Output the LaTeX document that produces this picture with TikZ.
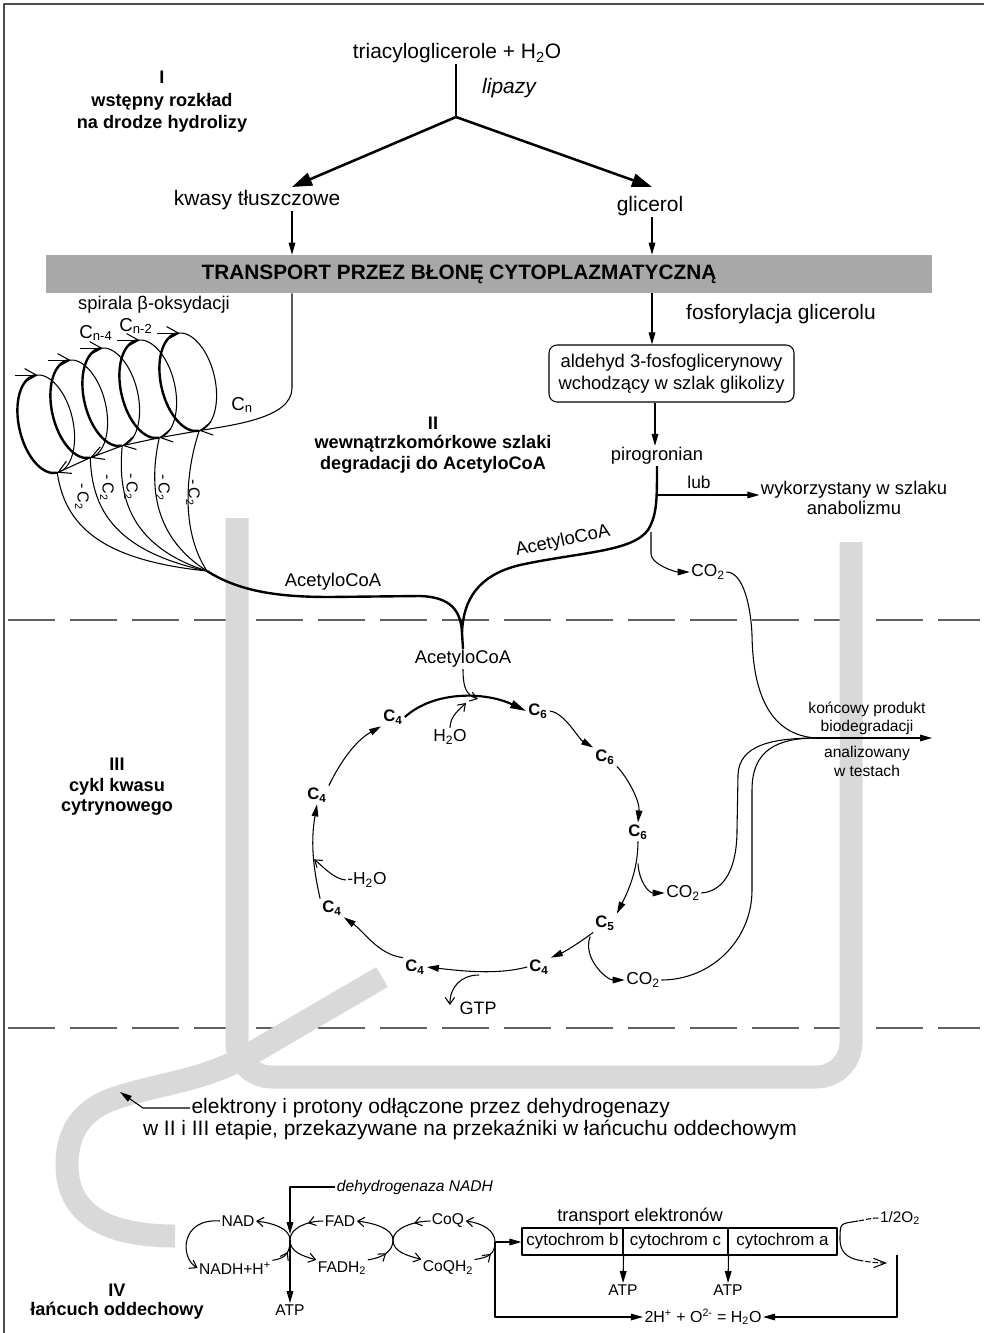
\documentclass[tikz,border=0pt]{standalone}
\usepackage{fontspec}
\setmainfont{Liberation Sans}
\usetikzlibrary{arrows.meta,calc,decorations.markings}

\definecolor{bandgray}{gray}{0.85}
\definecolor{bargray}{gray}{0.66}
\definecolor{rulegray}{gray}{0.38}
\definecolor{framegray}{gray}{0.3}

% type sizes (one unit of the layout grid = 0.75pt)
\newcommand\fzMain{\fontsize{15.7}{19}\selectfont}
\newcommand\fzBar{\fontsize{15.6}{18}\selectfont\bfseries}
\newcommand\fzSec{\fontsize{13.6}{16.2}\selectfont\bfseries}
\newcommand\fzMid{\fontsize{13.8}{16.5}\selectfont}
\newcommand\fzChem{\fontsize{13}{15}\selectfont}
\newcommand\fzCyc{\fontsize{12.5}{14}\selectfont\bfseries}
\newcommand\fzSmall{\fontsize{11.7}{13.5}\selectfont}
\newcommand\fzCyto{\fontsize{12.7}{14}\selectfont}

\tikzset{
  thinl/.style={line width=0.8pt},
  heavy/.style={line width=1.8pt},
  arr/.style={-{Triangle[length=9pt,width=5pt]}},
  bigarr/.style={-{Triangle[length=15pt,width=10pt]}},
  oarr/.style={-{Straight Barb[length=5pt,width=7pt]}},
  sparr/.style={-{Straight Barb[length=9pt,width=10pt]}},
  midbarb/.style={postaction={decorate},decoration={markings,
      mark=at position #1 with {\arrow{Straight Barb[length=5pt,width=7pt]}}}},
  band/.style={draw=bandgray,line width=17.25pt},
  lbl/.style={inner sep=1pt},
  cyc/.style={inner sep=1.5pt,font=\fzCyc},
}

\begin{document}
\begin{tikzpicture}[x=0.75pt,y=-0.75pt,line join=round]
\useasboundingbox (0,0) rectangle (984,1333);

% ---------- frame and stage separators ----------
\draw[framegray,line width=1.3pt] (4,1333) -- (4,4) -- (984,4);
\draw[rulegray,line width=0.9pt,dash pattern=on 35pt off 11.5pt] (8,620) -- (980,620);
\draw[rulegray,line width=0.9pt,dash pattern=on 35pt off 11.5pt] (8,1028) -- (980,1028);

% ---------- electron/proton carriers (grey bands) ----------
\draw[band,rounded corners=26pt] (237,518) -- (237,1077) -- (851,1077) -- (851,542);
\draw[band] (382,977) -- (245,1057) .. controls (200,1082) and (150,1085) .. (110,1100)
  .. controls (75,1114) and (67,1140) .. (67,1165) .. controls (67,1210) and (100,1236) .. (175,1236);

% ---------- stage I ----------
\node[lbl,font=\fzMain] (tri) at (457,53) {triacyloglicerole + H\textsubscript{2}O};
\node[lbl,font=\fzMain\itshape] (lip) at (509,88) {lipazy};
\node[lbl,font=\fzSec] (s1a) at (162,77) {I};
\node[lbl,font=\fzSec] (s1b) at (162,102) {wstępny rozkład};
\node[lbl,font=\fzSec] (s1c) at (162,124) {na drodze hydrolizy};
\node[lbl,font=\fzMain] (kwasy) at (257,200) {kwasy tłuszczowe};
\node[lbl,font=\fzMain] (glic) at (650,206) {glicerol};
\coordinate (br) at (456,117);
\coordinate (fa) at (292,187);
\coordinate (ga) at (652,187);
\draw[thinl] (tri.south -| br) -- (br);
\draw[line width=1.9pt,bigarr] (br) -- (fa);
\draw[line width=1.9pt,bigarr] (br) -- (ga);

% membrane transport bar
\node[fill=bargray,minimum width=664.5pt,minimum height=28.5pt,inner sep=0pt] (bar) at (489,274) {};
\node[lbl,font=\fzBar] (bartxt) at (459,274) {TRANSPORT PRZEZ BŁONĘ CYTOPLAZMATYCZNĄ};
\draw[thinl,arr] (kwasy.south -| fa) -- (bar.north -| fa);
\draw[thinl,arr] (glic.south -| ga) -- (bar.north -| ga);

% ---------- stage II ----------
\node[lbl,font=\fzSec] (s2a) at (433,423) {II};
\node[lbl,font=\fzSec] (s2b) at (433,444) {wewnątrzkomórkowe szlaki};
\node[lbl,font=\fzSec] (s2c) at (433,465) {degradacji do AcetyloCoA};

\node[lbl,font=\fzMain] (fos) at (781,314) {fosforylacja glicerolu};
\node[draw,thinl,rounded corners=6pt,minimum width=183.75pt,minimum height=42.75pt,
      inner sep=0pt,align=center,font=\fzMid] (box) at (671.5,373.5)
      {aldehyd 3-fosfoglicerynowy\\wchodzący w szlak glikolizy};
\draw[thinl,arr] (bar.south -| ga) -- (box.north -| ga);
\node[lbl,font=\fzMid] (piro) at (657,456) {pirogronian};
\coordinate (px) at (655,0);
\draw[thinl,arr] (box.south -| px) -- (piro.north -| px);

\node[lbl,font=\fzChem] (lub) at (699,482) {lub};
\node[lbl,align=center,font=\fontsize{13.8}{15}\selectfont] (wyk) at (854,498) {wykorzystany w szlaku\\anabolizmu};
\coordinate (lubs) at (657,495);
\draw[thinl,arr] (lubs) -- (wyk.west |- lubs);

\node[lbl,font=\fzChem] (co2p) at (708,572) {CO\textsubscript{2}};
\coordinate (co2s) at (651,532);
\draw[thinl,arr] (co2s) -- ++(0,22) .. controls +(0,10) and +(-15,0) .. (co2p.west);

% beta-oxidation spiral
\node[lbl,font=\fzMid] (spir) at (154,305) {spirala β-oksydacji};
\node[lbl,font=\fontsize{14}{16}\selectfont] (cn4) at (96,333) {C\textsubscript{n-4}};
\node[lbl,font=\fontsize{14}{16}\selectfont] (cn2) at (136,326) {C\textsubscript{n-2}};
\node[lbl,font=\fontsize{14}{16}\selectfont] (cn) at (242,405) {C\textsubscript{n}};
\foreach \i/\cx/\cy in {1/188/382,2/148/389,3/111/397,4/79/409,5/46/424}{
  \begin{scope}[shift={(\cx,\cy)},rotate=13]
    \coordinate (t\i) at (0,-50);
    \coordinate (b\i) at (0,50);
    \draw[line width=1.8pt] (0,50) arc[start angle=90,end angle=270,x radius=27,y radius=50];
    \draw[thinl] (0,-50) arc[start angle=270,end angle=450,x radius=27,y radius=50];
  \end{scope}
  \draw[thinl,sparr] ($(t\i)+(-20,0)$) -- ($(t\i)+(3,0)$);
}
\coordinate (cnl) at (292,388);
\draw[thinl,sparr] (bar.south -| cnl) -- (cnl) .. controls +(0,30) and +(35,-6) .. (b1);
\draw[thinl,sparr] (b1) -- (b2);
\draw[thinl,sparr] (b2) -- (b3);
\draw[thinl,sparr] (b3) -- (b4);
\draw[thinl,sparr] (b4) -- (b5);

% C2 units leaving each turn
\coordinate (conv) at (207,571);
\draw[thinl] (b1) .. controls (186,470) and (180,530) .. (conv);
\draw[thinl] (b2) .. controls (150,480) and (150,535) .. (conv);
\draw[thinl] (b3) .. controls (118,490) and (125,545) .. (conv);
\draw[thinl] (b4) .. controls (92,505) and (110,550) .. (conv);
\draw[thinl] (b5) .. controls (65,525) and (100,560) .. (conv);
\foreach \n/\lx/\ly in {1/193/493,2/163/488,3/131/487,4/107/488,5/82/497}{
  \node[lbl,rotate=-90,font=\fontsize{12}{14}\selectfont] (mc\n) at (\lx,\ly) {-\,C\textsubscript{2}};
}

% acetyl-CoA streams
\node[lbl,font=\fzMid] (acoa1) at (333,582) {AcetyloCoA};
\node[lbl,font=\fzMid,rotate=12] (acoa2) at (563,541) {AcetyloCoA};
\node[lbl,font=\fzMid] (acoa3) at (463,659) {AcetyloCoA};
\coordinate (cusp) at (462,633);
\draw[heavy] (conv) .. controls (240,592) and (280,597) .. (330,597) -- (420,596)
  .. controls (450,597) and (461,610) .. (cusp)
  .. controls (463,600) and (478,575) .. (520,565)
  .. controls (580,552) and (632,552) .. (648,530)
  .. controls (657,515) and (657,500) .. (piro.south);
\draw[heavy] (cusp) -- (acoa3.north);

% ---------- stage III: citric acid cycle ----------
\node[lbl,font=\fzSec] (s3a) at (117,764) {III};
\node[lbl,font=\fzSec] (s3b) at (117,787) {cykl kwasu};
\node[lbl,font=\fzSec] (s3c) at (117,807) {cytrynowego};

\node[cyc] (c6a) at (538,711) {C\textsubscript{6}};
\node[cyc] (c6b) at (605,757) {C\textsubscript{6}};
\node[cyc] (c6c) at (638,832) {C\textsubscript{6}};
\node[cyc] (c5)  at (605,923) {C\textsubscript{5}};
\node[cyc] (c4a) at (539,967) {C\textsubscript{4}};
\node[cyc] (c4b) at (415,967) {C\textsubscript{4}};
\node[cyc] (c4c) at (332,908) {C\textsubscript{4}};
\node[cyc] (c4d) at (317,795) {C\textsubscript{4}};
\node[cyc] (c4e) at (393,717) {C\textsubscript{4}};

\node[lbl,font=\fzChem] (h2o) at (450,737) {H\textsubscript{2}O};
\node[lbl,font=\fzChem] (mh2o) at (367,880) {-H\textsubscript{2}O};
\node[lbl,font=\fzChem] (co2a) at (683,893) {CO\textsubscript{2}};
\node[lbl,font=\fzChem] (co2b) at (643,980) {CO\textsubscript{2}};
\node[lbl,font=\fontsize{13.5}{15}\selectfont] (gtp) at (478,1008) {GTP};

\draw[line width=1.6pt,-{Triangle[length=12pt,width=6pt]}] (c4e.east) .. controls +(30,-27) and +(-40,-19) .. (c6a.west);
\draw[thinl,arr] (c6a.east) .. controls +(15,2) and +(-15,-9) .. (c6b.north west);
\draw[thinl,arr] (c6b.south east) .. controls +(10,10) and +(2,-22) .. (c6c.north);
\draw[thinl,arr] (c6c.south) .. controls +(0,30) and +(10,-20) .. (c5.north east);
\draw[thinl,arr] (c5.south west) .. controls +(-12,9) and +(16,-7) .. (c4a.north east);
\draw[thinl,arr] (c4a.west) .. controls +(-30,8) and +(35,4) .. (c4b.east);
\draw[thinl,arr] (c4b.north west) .. controls +(-25,-3) and +(20,14) .. (c4c.south east);
\draw[thinl,arr] (c4c.north west) .. controls +(-8,-35) and +(-6,35) .. (c4d.south);
\draw[thinl,arr] (c4d.north east) .. controls +(12,-25) and +(-25,14) .. (c4e.south west);

\coordinate (merge) at (478,699);
\coordinate (hj) at (466,703);
\draw[thinl,oarr] (acoa3.south) .. controls +(0,18) and +(-12,-4) .. (merge);
\draw[thinl,oarr] (h2o.north) .. controls +(0,-12) and +(-6,6) .. (hj);
\draw[thinl,oarr] (mh2o.west) .. controls +(-12,-1) and +(10,8) .. ($(c4d.south)+(-3,55)$);
\draw[thinl,arr] ($(c6c.south)+(0,22)$) .. controls +(1,18) and +(-16,0) .. (co2a.west);
\draw[thinl,arr] ($(c5.south west)+(-3,4)$) .. controls +(-8,22) and +(-18,0) .. (co2b.west);
\draw[thinl,oarr] ($(c4b.east)!0.52!(c4a.west)+(0,8)$) .. controls +(-18,0) and +(0,-18) .. ($(gtp.west)+(-8,-3)$);

% CO2 gathered as the end product
\node[lbl,font=\fzSmall] (kon1) at (867,709) {końcowy produkt};
\node[lbl,font=\fzSmall] (kon2) at (867,727) {biodegradacji};
\node[lbl,font=\fzSmall] (an1) at (867,753) {analizowany};
\node[lbl,font=\fzSmall] (an2) at (867,771) {w testach};
\coordinate (fin) at (817,738);
\coordinate (finend) at (932,738);
\draw[thinl] (co2p.east) .. controls +(18,0) and +(-1,-25) .. (752,635) .. controls +(1,70) and +(-40,-2) .. (fin);
\draw[thinl] (co2a.east) .. controls +(25,-2) and +(0,35) .. (737,830) -- (738,775) .. controls +(1,-30) and +(-45,0) .. (fin);
\draw[thinl] (co2b.east) .. controls +(50,0) and +(0,50) .. (752,890) -- (752,790) .. controls +(0,-40) and +(-40,0) .. (fin);
\draw[thinl,arr] (fin) -- (finend);

% ---------- stage IV: respiratory chain ----------
\node[lbl,font=\fzMain,anchor=west] (el1) at (190,1108) {elektrony i protony odłączone przez dehydrogenazy};
\node[lbl,font=\fzMain] (el2) at (470,1130) {w II i III etapie, przekazywane na przekaźniki w łańcuchu oddechowym};
\coordinate (ebt) at (120,1092);
\draw[thinl,arr] (el1.west) -- ++(-47,0) -- (ebt);

\node[lbl,font=\fzSec] (s4a) at (117,1290) {IV};
\node[lbl,font=\fzSec] (s4b) at (117,1311) {łańcuch oddechowy};

\node[lbl,font=\fzSmall\itshape] (dehy) at (415,1187) {dehydrogenaza NADH};
\node[lbl,font=\fzSmall] (nad) at (238,1221) {NAD};
\node[lbl,font=\fzSmall] (fad) at (340,1221) {FAD};
\node[lbl,font=\fzSmall] (coq) at (448,1221) {CoQ};
\node[lbl,font=\fzSmall] (nadh) at (235,1268) {NADH+H\textsuperscript{+}};
\node[lbl,font=\fzSmall] (fadh) at (342,1268) {FADH\textsubscript{2}};
\node[lbl,font=\fzSmall] (coqh) at (448,1268) {CoQH\textsubscript{2}};
\node[lbl,font=\fzSmall] (atp0) at (290,1310) {ATP};
\coordinate (j1) at (290,1240);
\coordinate (j2) at (393,1240);
\coordinate (j3) at (495,1242);

\draw[thinl,arr] (dehy.west) -- ++(-13,0) -| ($(j1)+(0,-6)$);
\draw[thinl,arr] (j1) -- (atp0.north);
\draw[thinl,oarr] (nad.west) .. controls (180,1218) and (180,1258) .. (nadh.west);
\draw[thinl,oarr,midbarb=0.25] (nadh.north east) .. controls +(14,-2) and +(0,12) .. (j1) .. controls +(0,-12) and +(16,2) .. (nad.east);
\draw[thinl,oarr,midbarb=0.2] (fad.west) .. controls +(-16,0) and +(0,-12) .. (j1) .. controls +(0,12) and +(-14,-4) .. (fadh.north west);
\draw[thinl,oarr,midbarb=0.25] (fadh.north east) .. controls +(14,-2) and +(0,12) .. (j2) .. controls +(0,-12) and +(16,2) .. (fad.east);
\draw[thinl,oarr,midbarb=0.2] (coq.west) .. controls +(-16,0) and +(0,-12) .. (j2) .. controls +(0,12) and +(-14,-4) .. (coqh.north west);
\draw[thinl,oarr,midbarb=0.25] (coqh.north east) .. controls +(14,-2) and +(0,12) .. (j3) .. controls +(0,-12) and +(16,2) .. (coq.east);

\node[lbl,font=\fontsize{13.7}{15}\selectfont] (trn) at (640,1217) {transport elektronów};
\node[draw,thinl,minimum width=75.75pt,minimum height=20.25pt,inner sep=0pt,font=\fzCyto] (cytb) at (572.5,1241.5) {cytochrom b};
\node[draw,thinl,minimum width=78.75pt,minimum height=20.25pt,inner sep=0pt,font=\fzCyto] (cytc) at (675.5,1241.5) {cytochrom c};
\node[draw,thinl,minimum width=81.75pt,minimum height=20.25pt,inner sep=0pt,font=\fzCyto] (cyta) at (782.5,1241.5) {cytochrom a};
\node[lbl,font=\fzSmall] (atp1) at (623,1290) {ATP};
\node[lbl,font=\fzSmall] (atp2) at (728,1290) {ATP};
\draw[thinl,arr] (j3) -- (j3 -| cytb.west);
\draw[thinl,arr] (cytb.south east) -- (atp1.north);
\draw[thinl,arr] (cytc.south east) -- (atp2.north);

\node[lbl,font=\fontsize{11.5}{13}\selectfont] (o2) at (900,1218) {1/2O\textsubscript{2}};
\node[lbl,font=\fontsize{12}{14}\selectfont] (eq) at (703,1317) {2H\textsuperscript{+} + O\textsuperscript{2-} = H\textsubscript{2}O};
\coordinate (o2end) at (887,1263);
\coordinate (o2a) at (858,1221);
\coordinate (o2b) at (858,1260);
% oxygen reduction: dashed lead-in, solid bend, dashed lead-out
\draw[thinl,dash pattern=on 4pt off 1.5pt] (o2.west) .. controls +(-10,0) and +(8,-1) .. (o2a);
\draw[thinl] (o2a) .. controls +(-18,3) and +(0,-18) .. (840,1240) .. controls +(0,12) and +(-10,-2) .. (o2b);
\draw[thinl,dash pattern=on 4pt off 1.5pt,-{Straight Barb[length=9pt,width=7pt]}] (o2b) .. controls +(10,2) and +(-10,0) .. (o2end);
\coordinate (rv) at (897,1255);
\draw[thinl,arr] (rv) -- (rv |- eq) -- (eq.east);
\draw[thinl,arr] (j3) -- (j3 |- eq) -- (eq.west);

\end{tikzpicture}
\end{document}
